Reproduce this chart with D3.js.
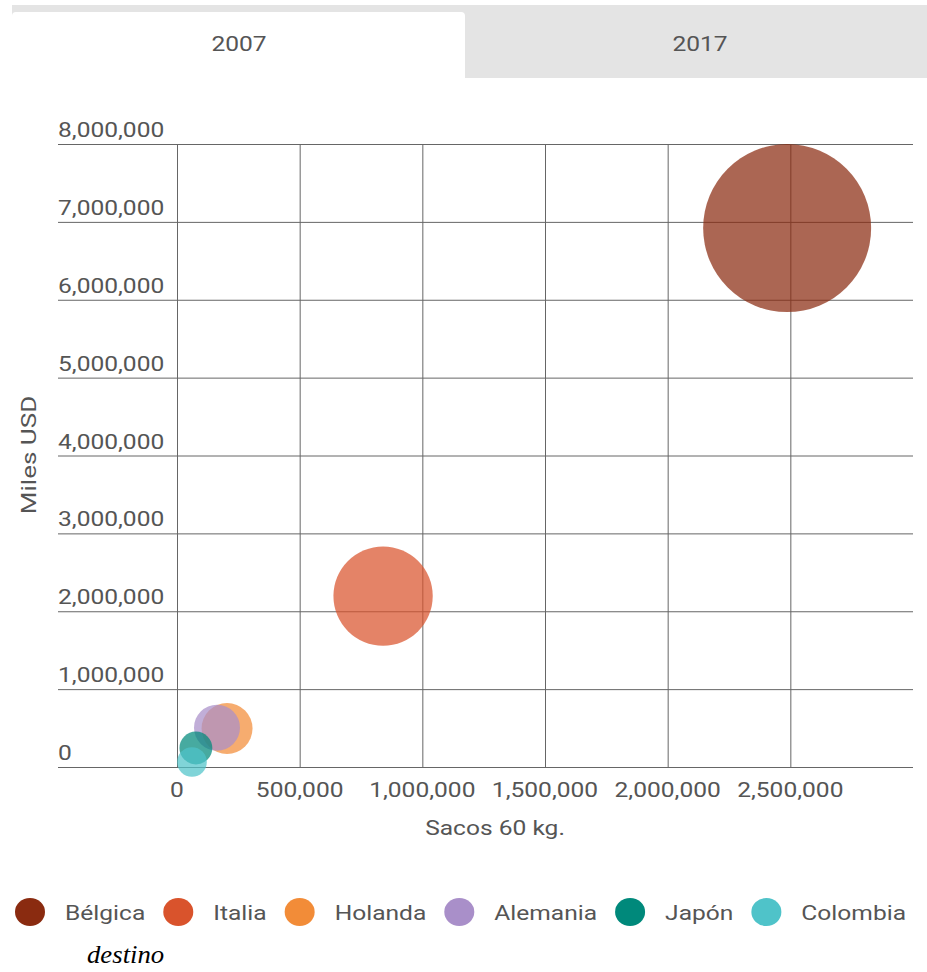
<!DOCTYPE html>
<html lang="es">
<head>
    <meta charset="UTF-8">
    <title>Exportaciones de café por destino</title>
    <script src="https://d3js.org/d3.v7.min.js"></script>
    <style>
        body { margin: 0; background: #fff; font-family: Roboto, Arial, sans-serif; }
        svg { display: block; }
    </style>
</head>
<body>
<div id="chart"></div>
<script>
    // Data (año 2007)
    const paises = ["Bélgica", "Italia", "Holanda", "Alemania", "Japón", "Colombia"];
    const sacos = [2487000, 840000, 204000, 163000, 77000, 61000];
    const milesUSD = [6920000, 2195000, 494000, 505000, 244000, 64000];
    const colores = ["#8a2b10", "#d9532c", "#f28c38", "#a98fc9", "#00897b", "#4fc3c9"];
    const anios = ["2007", "2017"];
    const xTicks = [0, 500000, 1000000, 1500000, 2000000, 2500000];
    const yTicks = [0, 1000000, 2000000, 3000000, 4000000, 5000000, 6000000, 7000000, 8000000];

    const W = 927, H = 972;
    const SX = 1.17; // the text in the original is a bit wide
    const svg = d3.select("#chart").append("svg")
        .attr("width", W)
        .attr("height", H);

    const wide = (px, py) => `translate(${px},${py}) scale(${SX},1)`;

    // Tabs
    svg.append("rect").attr("x", 12).attr("y", 5).attr("width", W - 12).attr("height", 73)
        .attr("fill", "#e4e4e4");
    svg.append("path")
        .attr("d", "M12,78 V16 Q12,12 16,12 H461 Q465,12 465,16 V78 Z")
        .attr("fill", "#fff");
    svg.selectAll(".tab").data(anios).enter().append("text")
        .attr("transform", (d, i) => wide(i === 0 ? 239 : 700, 51))
        .attr("text-anchor", "middle")
        .attr("font-size", 21)
        .attr("fill", "#555")
        .text(d => d);

    // Scales
    const x = d3.scaleLinear().domain([0, 3000000]).range([177, 913]);
    const y = d3.scaleLinear().domain([0, 8000000]).range([767, 144]);
    const r = d3.scaleSqrt().domain([0, d3.max(sacos)]).range([2, 84]);
    const fmt = d3.format(",");

    // Horizontal grid + y labels
    const gy = svg.append("g");
    gy.selectAll("line").data(yTicks).enter().append("line")
        .attr("x1", 58).attr("x2", 913)
        .attr("y1", d => y(d) + 0.5).attr("y2", d => y(d) + 0.5)
        .attr("stroke", "#666").attr("stroke-width", 1);
    gy.selectAll("text").data(yTicks).enter().append("text")
        .attr("transform", d => wide(58, y(d) - 7))
        .attr("font-size", 21)
        .attr("fill", "#555")
        .text(d => fmt(d));

    // Vertical grid + x labels
    const gx = svg.append("g");
    gx.selectAll("line").data(xTicks).enter().append("line")
        .attr("x1", d => x(d) + 0.5).attr("x2", d => x(d) + 0.5)
        .attr("y1", y(8000000)).attr("y2", y(0))
        .attr("stroke", "#666").attr("stroke-width", 1);
    gx.selectAll("text").data(xTicks).enter().append("text")
        .attr("transform", d => wide(x(d), 797))
        .attr("text-anchor", "middle")
        .attr("font-size", 21)
        .attr("fill", "#555")
        .text(d => fmt(d));

    // Axis titles
    svg.append("text")
        .attr("transform", wide(495, 835))
        .attr("text-anchor", "middle")
        .attr("font-size", 21).attr("fill", "#555")
        .text("Sacos 60 kg.");
    svg.append("text")
        .attr("transform", "translate(36,455) rotate(-90) scale(1.24,1)")
        .attr("text-anchor", "middle")
        .attr("font-size", 21).attr("fill", "#555")
        .text("Miles USD");

    // Bubbles
    svg.append("g").selectAll("circle").data(paises).enter().append("circle")
        .attr("cx", (d, i) => x(sacos[i]))
        .attr("cy", (d, i) => y(milesUSD[i]))
        .attr("r", (d, i) => r(sacos[i]))
        .attr("fill", (d, i) => colores[i])
        .attr("fill-opacity", 0.72);

    // Legend, laid out from the measured label widths
    let lx = 15;
    paises.forEach((p, i) => {
        const g = svg.append("g").attr("transform", `translate(${lx + 15},912)`);
        g.append("ellipse").attr("rx", 15).attr("ry", 14).attr("fill", colores[i]);
        const t = g.append("text")
            .attr("transform", wide(35, 8))
            .attr("font-size", 21).attr("fill", "#555")
            .text(p);
        lx += 15 + 35 + t.node().getComputedTextLength() * SX + 18;
    });

    svg.append("text")
        .attr("transform", "translate(87,963) scale(1.07,1)")
        .attr("font-family", "'Liberation Serif', 'Times New Roman', serif")
        .attr("font-style", "italic")
        .attr("font-size", 25)
        .attr("fill", "#000")
        .text("destino");
</script>
</body>
</html>
